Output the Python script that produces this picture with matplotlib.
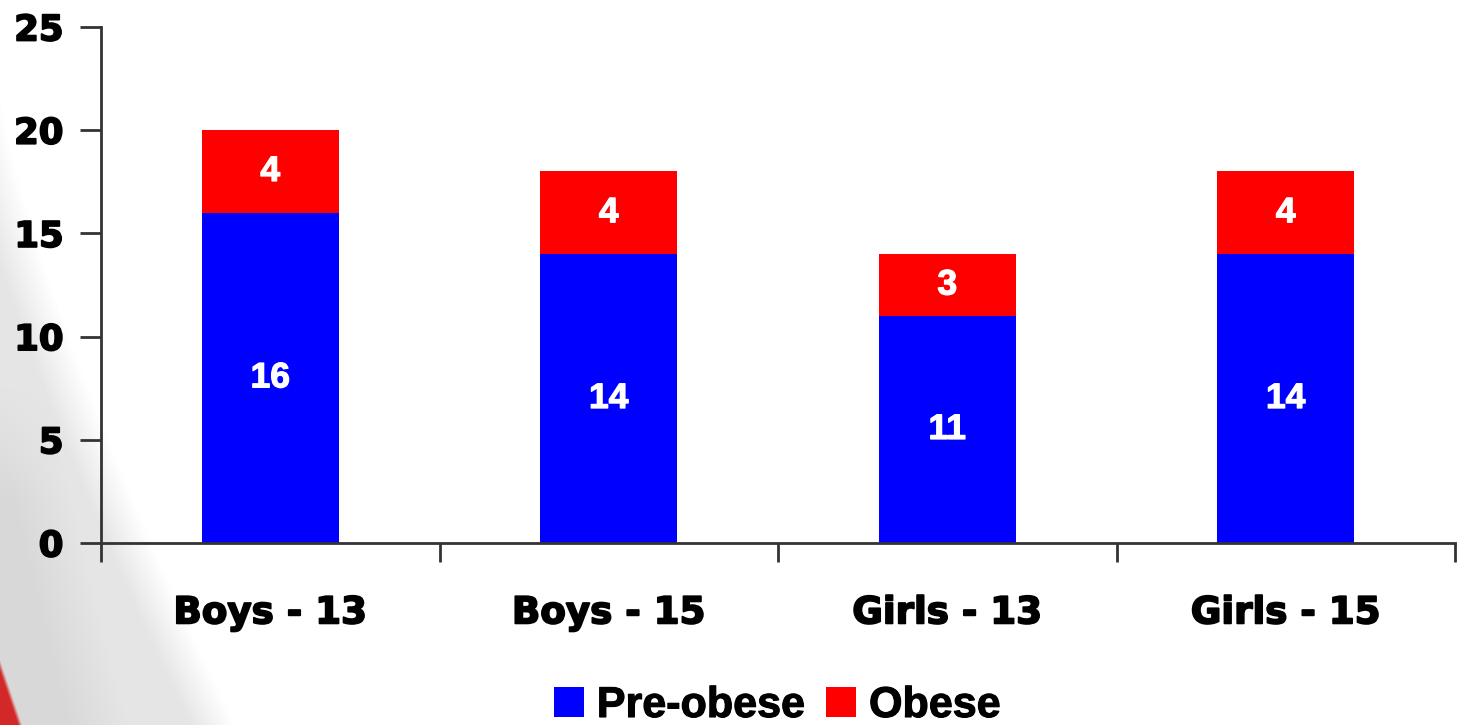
import matplotlib.pyplot as plt
import matplotlib.patheffects as pe
import numpy as np

categories = ["Boys - 13", "Boys - 15", "Girls - 13", "Girls - 15"]
pre_obese = [16, 14, 11, 14]
obese = [4, 4, 3, 4]

W, H = 1459, 725

plt.rcParams["font.family"] = ["DejaVu Sans"]
plt.rcParams["font.weight"] = "bold"

fig = plt.figure(figsize=(W / 100, H / 100), dpi=100)

# faint grey swoosh with a red corner, like the slide template behind the chart
yy, xx = np.mgrid[0:H, 0:W].astype(float)
edge = 235 * np.clip((yy - 90) / 635, 0, None) ** 1.3
grey = np.clip((edge - xx) / 45, 0, 1)
inner = np.clip((0.55 * edge - xx) / 60, 0, 1) * np.clip((yy - 380) / 120, 0, 1)
shade = 1 - 0.10 * grey - 0.05 * inner
bg = np.dstack([shade, shade, shade])
red = np.clip((22 * (yy - 660) / 65 - xx) / 4, 0, 1)
bg[..., 0] = bg[..., 0] * (1 - red) + 0.83 * red
bg[..., 1] = bg[..., 1] * (1 - red) + 0.16 * red
bg[..., 2] = bg[..., 2] * (1 - red) + 0.16 * red
fig.figimage(bg, xo=0, yo=0, origin="upper", zorder=-1)

ax = fig.add_axes([101 / W, 1 - 543 / H, (1455 - 101) / W, (543 - 27) / H])
ax.set_zorder(2)
ax.patch.set_alpha(0)

x = range(len(categories))
ax.bar(x, pre_obese, width=0.405, color="#0000ff", label="Pre-obese", zorder=2)
ax.bar(x, obese, width=0.405, bottom=pre_obese, color="#ff0000", label="Obese", zorder=2)

white_heavy = [pe.withStroke(linewidth=0.9, foreground="white")]
for i in x:
    ax.text(i, pre_obese[i] / 2, str(pre_obese[i]), ha="center", va="center",
            color="white", fontsize=25.5, fontweight="bold", family="Liberation Sans",
            path_effects=white_heavy)
    ax.text(i, pre_obese[i] + obese[i] / 2, str(obese[i]), ha="center", va="center",
            color="white", fontsize=25.5, fontweight="bold", family="Liberation Sans",
            path_effects=white_heavy)

# heavier black lettering
heavy = [pe.withStroke(linewidth=1.3, foreground="black")]

ax.set_xlim(-0.5, len(categories) - 0.5)
ax.set_ylim(0, 25)
ax.set_yticks(range(0, 26, 5))
ax.set_xticks([i - 0.5 for i in range(len(categories) + 1)])
ax.set_xticklabels([])
ax.set_xticks(list(x), minor=True)
ax.set_xticklabels(categories, minor=True, fontsize=26.8, fontweight="bold")
ax.tick_params(axis="x", which="minor", length=0, pad=37)
ax.tick_params(axis="x", which="major", length=14, width=2, color="#333333")
ax.tick_params(axis="y", length=15, width=2, color="#333333", labelsize=25.5, pad=12)
for lbl in ax.get_xticklabels(minor=True) + ax.get_yticklabels():
    lbl.set_path_effects(heavy)

for s in ["top", "right"]:
    ax.spines[s].set_visible(False)
for s in ["left", "bottom"]:
    ax.spines[s].set_linewidth(2)
    ax.spines[s].set_color("#333333")

leg = fig.legend(loc="center", bbox_to_anchor=(777 / W, 1 - 706 / H), ncol=2,
                 frameon=False, prop={"family": "Liberation Sans", "weight": "bold", "size": 31},
                 handlelength=0.7, handleheight=0.7, handletextpad=0.3,
                 columnspacing=0.5, borderpad=0)
for t in leg.get_texts():
    t.set_path_effects([pe.withStroke(linewidth=0.8, foreground="black")])

fig.savefig("out.png", dpi=100)
